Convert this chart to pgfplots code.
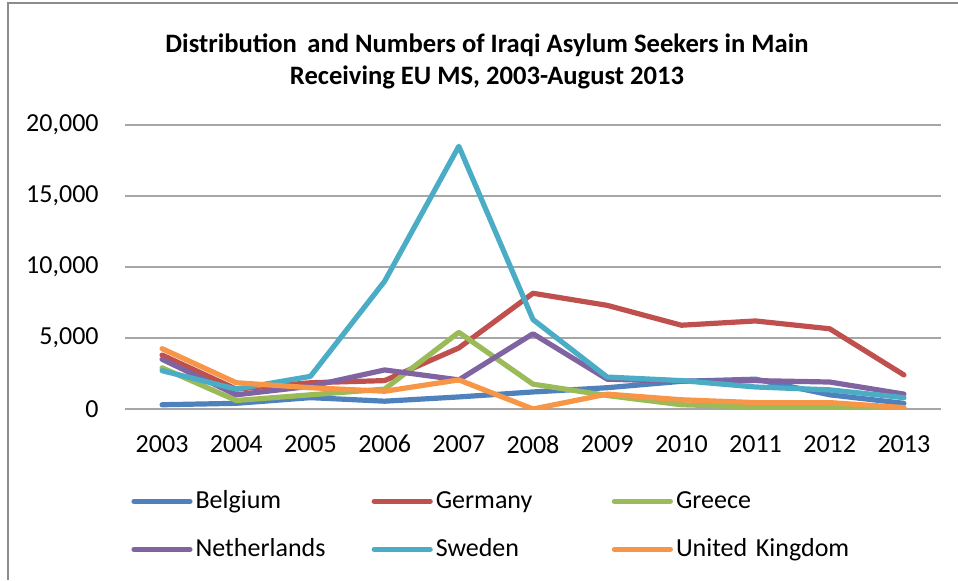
\documentclass[border=0pt]{standalone}
\usepackage{pgfplots}
\pgfplotsset{compat=1.18}
\usepackage{fontspec}
\setmainfont{Carlito}
\definecolor{cBel}{HTML}{4F81BD}
\definecolor{cGer}{HTML}{C0504D}
\definecolor{cGre}{HTML}{9BBB59}
\definecolor{cNet}{HTML}{8064A2}
\definecolor{cSwe}{HTML}{4BACC6}
\definecolor{cUK}{HTML}{F79646}
\definecolor{gridc}{HTML}{A6A6A6}
\definecolor{framec}{HTML}{8C8C8C}
\begin{document}
\begin{tikzpicture}
\useasboundingbox (0,0) rectangle (479pt,290pt);
\draw[framec, line width=1pt] (4pt,0pt) -- (4pt,288.5pt) -- (479pt,288.5pt);
\node[align=center, font=\fontsize{13.3}{16}\selectfont\bfseries] at (243.5pt,259.5pt)
  {Distribution\, and Numbers of Iraqi Asylum Seekers in Main\\Receiving EU MS, 2003-August 2013};
\begin{axis}[
  at={(62.5pt,85.5pt)}, anchor=south west,
  scale only axis, width=408pt, height=142pt,
  xmin=-0.5, xmax=10.5, ymin=0, ymax=20000,
  xtick={0,...,10},
  xticklabels={2003,2004,2005,2006,2007,2008,2009,2010,2011,2012,2013},
  ytick={0,5000,10000,15000,20000},
  scaled y ticks=false,
  /pgf/number format/.cd, 1000 sep={,}, assume math mode=true,
  /pgfplots/.cd,
  major tick length=0pt,
  axis line style={draw=none},
  axis x line*=bottom, axis y line*=left,
  ymajorgrids, grid style={gridc, line width=0.75pt},
  extra y ticks={0}, extra y tick labels={},
  extra y tick style={grid style={gridc, line width=0.75pt}},
  tick label style={font=\fontsize{13}{15}\selectfont, inner sep=0pt},
  yticklabel style={anchor=east, xshift=-13pt},
  xticklabel style={anchor=north, yshift=-13pt},
  legend columns=3,
  legend cell align=left,
  legend style={draw=none, fill=none, at={(0pt,-32pt)}, anchor=north west,
    font=\fontsize{13}{15}\selectfont,
    nodes={inner sep=0pt, text width=88pt, align=left, minimum height=24pt, anchor=west},
    /tikz/every odd column/.append style={column sep=1.5pt},
    /tikz/every even column/.append style={column sep=0pt}},
  legend image code/.code={\draw[#1, line cap=round] (0pt,0pt) -- (28pt,0pt);},
  every axis plot/.append style={line width=2.6pt, line cap=round, line join=round},
]
\addplot[cBel] coordinates {(0,300)(1,400)(2,800)(3,550)(4,850)(5,1200)(6,1500)(7,1950)(8,2100)(9,1000)(10,400)};
\addlegendentry{Belgium}
\addplot[cGer] coordinates {(0,3800)(1,1400)(2,1850)(3,2000)(4,4300)(5,8150)(6,7300)(7,5900)(8,6200)(9,5650)(10,2400)};
\addlegendentry{Germany}
\addplot[cGre] coordinates {(0,2900)(1,600)(2,1000)(3,1400)(4,5400)(5,1750)(6,950)(7,300)(8,150)(9,150)(10,50)};
\addlegendentry{Greece}
\addplot[cNet] coordinates {(0,3500)(1,1000)(2,1600)(3,2750)(4,2050)(5,5300)(6,2100)(7,1950)(8,2000)(9,1900)(10,1050)};
\addlegendentry{Netherlands}
\addplot[cSwe] coordinates {(0,2700)(1,1400)(2,2300)(3,9000)(4,18500)(5,6300)(6,2250)(7,2000)(8,1550)(9,1350)(10,800)};
\addlegendentry{Sweden}
\addplot[cUK] coordinates {(0,4250)(1,1850)(2,1500)(3,1250)(4,2050)(5,0)(6,1050)(7,650)(8,450)(9,450)(10,100)};
\addlegendentry{United Kingdom}
\end{axis}
\end{tikzpicture}
\end{document}
